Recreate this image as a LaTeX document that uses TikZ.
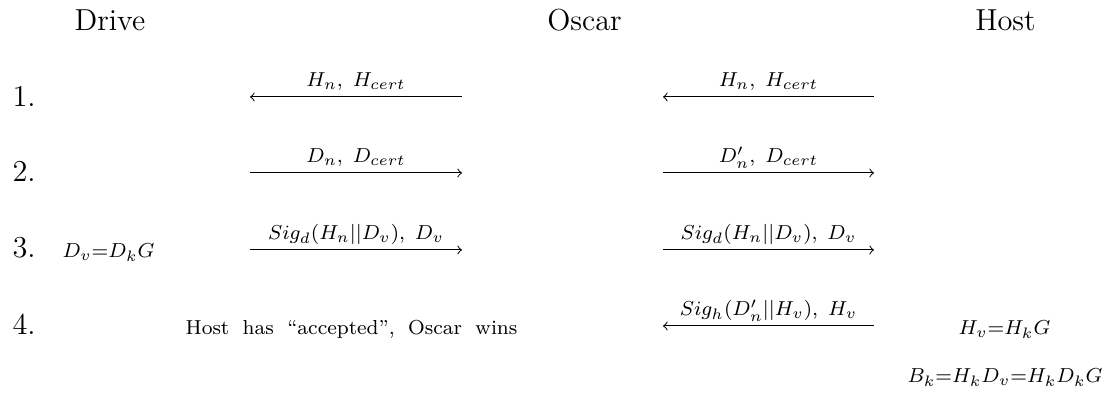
\documentclass[12pt,tikz,border=0pt]{standalone}
\usetikzlibrary{positioning}
\tikzset{
  party/.style={anchor=base},
  msg/.style={midway, anchor=base, yshift=3.95pt, inner sep=0pt},
  eqn/.style={anchor=base},
}
\begin{document}
\begin{tikzpicture}
 \useasboundingbox (0,0) rectangle (15.45,5.599);
 \node[party] (drive) at (1.528,5.169) {Drive};
 \node[party] (oscar) at (8.121,5.169) {Oscar};
 \node[party] (host) at (13.970,5.169) {Host};
 \foreach \r/\y/\b in {1/4.252/4.113,2/3.196/3.071,3/2.126/2.015,4/1.070/0.945}{
    \node[anchor=base west, inner sep=0pt] (n\r) at (0.167,\b) {\r.};
    \coordinate (lD\r) at (3.474,\y);
    \coordinate (lO\r) at (6.419,\y);
    \coordinate (rO\r) at (9.212,\y);
    \coordinate (rH\r) at (12.143,\y);
 }
 \draw [<-] (lD1) -- (lO1) node[msg] (m1a) {$\scriptstyle H_n,\ H_{cert}$};
 \draw [<-] (rO1) -- (rH1) node[msg] (m1b) {$\scriptstyle H_n,\ H_{cert}$};
 \draw [->] (lD2) -- (lO2) node[msg] (m2a) {$\scriptstyle D_n,\ D_{cert}$};
 \draw [->] (rO2) -- (rH2) node[msg] (m2b) {$\scriptstyle D'_n,\ D_{cert}$};
 \draw [->] (lD3) -- (lO3) node[msg] (m3a) {$\scriptstyle Sig_d(H_n||D_v),\ D_v$};
 \draw [->] (rO3) -- (rH3) node[msg] (m3b) {$\scriptstyle Sig_d(H_n||D_v),\ D_v$};
 \draw [<-] (rO4) -- (rH4) node[msg] (m4b) {$\scriptstyle Sig_h(D'_n||H_v),\ H_v$};
 \node[eqn] (dv) at (1.508,2.015) {$\scriptstyle D_v=D_kG$};
 \node[eqn, font=\scriptsize] (wins) at (4.884,0.945) {\spaceskip=5.3pt\relax Host has “accepted”, Oscar wins};
 \node[eqn] (hv) at (13.956,0.945) {$\scriptstyle H_v=H_kG$};
 \node[eqn] (bk) at (13.963,0.278) {$\scriptstyle B_k=H_kD_v=H_kD_kG$};
\end{tikzpicture}
\end{document}
